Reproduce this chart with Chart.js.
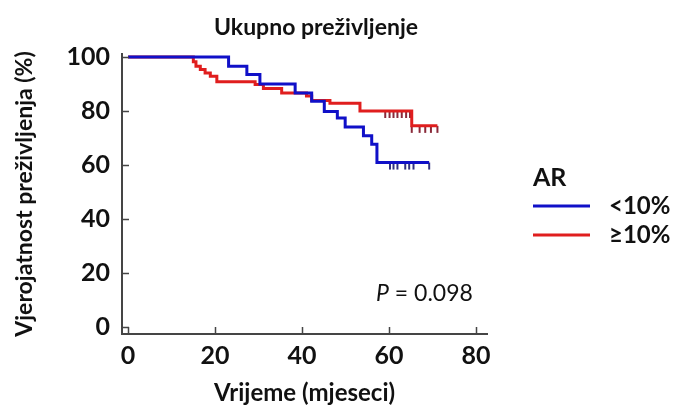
<!DOCTYPE html>
<html>
<head>
<meta charset="utf-8">
<script src="https://cdn.jsdelivr.net/npm/chart.js@4.4.1/dist/chart.umd.min.js"></script>
<style>
  html, body { margin: 0; padding: 0; background: #fff; }
  #okvir { width: 675px; height: 410px; }
</style>
</head>
<body>
<div id="okvir"><canvas id="graficoPrezivljenje"></canvas></div>
<script>
// Kaplan-Meier krivulje: ukupno preživljenje prema skupinama AR

// AR < 10%
const VRIJEME_MALI = [0, 23.1, 27.3, 30.3, 38.4, 42.2, 45.1, 48.1, 49.9, 54.1, 56.0, 57.2, 69.2];
const PREZ_MALI    = [100, 96.6, 93.5, 90.0, 86.7, 83.6, 79.8, 77.4, 74.1, 70.8, 67.7, 60.9, 60.9];

// AR >= 10%
const VRIJEME_VELIKI = [0, 15.0, 15.6, 16.6, 17.7, 18.9, 20.4, 29.2, 31.1, 35.3, 41.0, 42.2, 46.4, 53.3, 65.2, 71.1];
const PREZ_VELIKI    = [100, 98.2, 96.6, 95.4, 94.1, 92.9, 90.8, 89.8, 88.3, 86.7, 85.5, 83.9, 82.9, 80.0, 74.5, 74.5];

// cenzurirani bolesnici (vrijeme, razina krivulje)
const CENZ_MALI_T   = [60.2, 61.0, 61.9, 63.7, 64.6, 65.6, 69.2];
const CENZ_MALI_S   = [60.9, 60.9, 60.9, 60.9, 60.9, 60.9, 60.9];
const CENZ_VELIKI_T = [59.1, 60.1, 61.0, 61.9, 62.9, 63.9, 64.8, 65.2, 67.0, 68.3, 69.6, 71.1];
const CENZ_VELIKI_S = [80.0, 80.0, 80.0, 80.0, 80.0, 80.0, 80.0, 74.5, 74.5, 74.5, 74.5, 74.5];

const X_OZNAKE = [0, 20, 40, 60, 80];
const Y_OZNAKE = [0, 20, 40, 60, 80, 100];

const PLAVA   = "#1010c8";
const CRVENA  = "#e01e1e";
const OS_BOJA = "#454545";
const FONT    = "Lato, 'Open Sans', sans-serif";

const tocke = (xs, ys) => xs.map((x, i) => ({ x, y: ys[i] }));

// mala okomita crtica ispod krivulje za cenzurirane
function crticaCenzure(boja) {
  const c = document.createElement("canvas");
  c.width = 4;
  c.height = 16;
  const g = c.getContext("2d");
  g.fillStyle = boja;
  g.fillRect(1, 8, 2, 7);
  return c;
}

// unutarnje crtice na osima
const crticeOsi = {
  id: "crticeOsi",
  afterDraw(chart) {
    const { ctx, chartArea, scales } = chart;
    ctx.save();
    ctx.strokeStyle = OS_BOJA;
    ctx.lineWidth = 1.5;
    ctx.beginPath();
    Y_OZNAKE.forEach(v => {
      const y = Math.round(scales.y.getPixelForValue(v)) + 0.5;
      ctx.moveTo(chartArea.left, y);
      ctx.lineTo(chartArea.left + 7, y);
    });
    X_OZNAKE.forEach(v => {
      const x = Math.round(scales.x.getPixelForValue(v)) + 0.5;
      ctx.moveTo(x, chartArea.bottom);
      ctx.lineTo(x, chartArea.bottom - 7);
    });
    ctx.stroke();
    ctx.restore();
  },
};

// naslov, P vrijednost i legenda
const tekstovi = {
  id: "tekstovi",
  afterDraw(chart) {
    const { ctx } = chart;
    ctx.save();
    ctx.fillStyle = "#111";
    ctx.textBaseline = "middle";

    ctx.font = `bold 23px ${FONT}`;
    ctx.textAlign = "center";
    ctx.fillText("Ukupno preživljenje", 316, 28);

    // P = 0.098
    ctx.textAlign = "left";
    ctx.font = `italic 23px ${FONT}`;
    ctx.fillText("P", 376, 294);
    const wP = ctx.measureText("P").width;
    ctx.font = `23px ${FONT}`;
    ctx.fillText(" = 0.098", 376 + wP, 294);

    // legenda
    ctx.font = `bold 25px ${FONT}`;
    ctx.fillText("AR", 533, 178);
    ctx.lineWidth = 3;
    [[PLAVA, "<10%", 206], [CRVENA, "≥10%", 235]].forEach(([boja, tekst, y]) => {
      ctx.strokeStyle = boja;
      ctx.beginPath();
      ctx.moveTo(533, y);
      ctx.lineTo(590, y);
      ctx.stroke();
      ctx.font = `bold 24px ${FONT}`;
      ctx.fillText(tekst, 609, y);
    });
    ctx.restore();
  },
};

new Chart(document.getElementById("graficoPrezivljenje"), {
  type: "line",
  data: {
    datasets: [
      {
        label: "<10%",
        data: tocke(VRIJEME_MALI, PREZ_MALI),
        borderColor: PLAVA,
        borderWidth: 3,
        stepped: "before",
        pointRadius: 0,
        fill: false,
      },
      {
        label: "≥10%",
        data: tocke(VRIJEME_VELIKI, PREZ_VELIKI),
        borderColor: CRVENA,
        borderWidth: 3,
        stepped: "before",
        pointRadius: 0,
        fill: false,
      },
      {
        type: "scatter",
        label: "cenzurirani <10%",
        data: tocke(CENZ_MALI_T, CENZ_MALI_S),
        pointStyle: crticaCenzure("#303080"),
        pointRadius: 5,
      },
      {
        type: "scatter",
        label: "cenzurirani ≥10%",
        data: tocke(CENZ_VELIKI_T, CENZ_VELIKI_S),
        pointStyle: crticaCenzure("#8a2a3a"),
        pointRadius: 5,
      },
    ],
  },
  options: {
    responsive: true,
    maintainAspectRatio: false,
    animation: false,
    layout: { padding: { left: 0, right: 188, top: 54, bottom: 0 } },
    plugins: {
      legend: { display: false },
      tooltip: { enabled: false },
      title: { display: false },
    },
    scales: {
      x: {
        type: "linear",
        min: -1.4,
        max: 82.5,
        afterBuildTicks: s => { s.ticks = X_OZNAKE.map(v => ({ value: v })); },
        afterFit: s => { s.height = 76; },
        grid: { display: false, drawTicks: false },
        border: { display: true, color: OS_BOJA, width: 2 },
        ticks: { color: "#111", font: { family: FONT, size: 25, weight: "bold" }, padding: 7 },
        title: {
          display: true,
          text: "Vrijeme (mjeseci)",
          color: "#111",
          font: { family: FONT, size: 24, weight: "bold" },
          padding: { top: 0, bottom: 2 },
        },
      },
      y: {
        type: "linear",
        min: -2.6,
        max: 101.1,
        afterBuildTicks: s => { s.ticks = Y_OZNAKE.map(v => ({ value: v })); },
        afterFit: s => { s.width = 122; },
        grid: { display: false, drawTicks: false },
        border: { display: true, color: OS_BOJA, width: 2 },
        ticks: { color: "#111", font: { family: FONT, size: 25, weight: "bold" }, padding: 12 },
        title: {
          display: true,
          text: "Vjerojatnost preživljenja (%)",
          color: "#111",
          font: { family: FONT, size: 23, weight: "bold" },
          padding: { top: 11, bottom: 0 },
        },
      },
    },
  },
  plugins: [crticeOsi, tekstovi],
});
</script>
</body>
</html>
